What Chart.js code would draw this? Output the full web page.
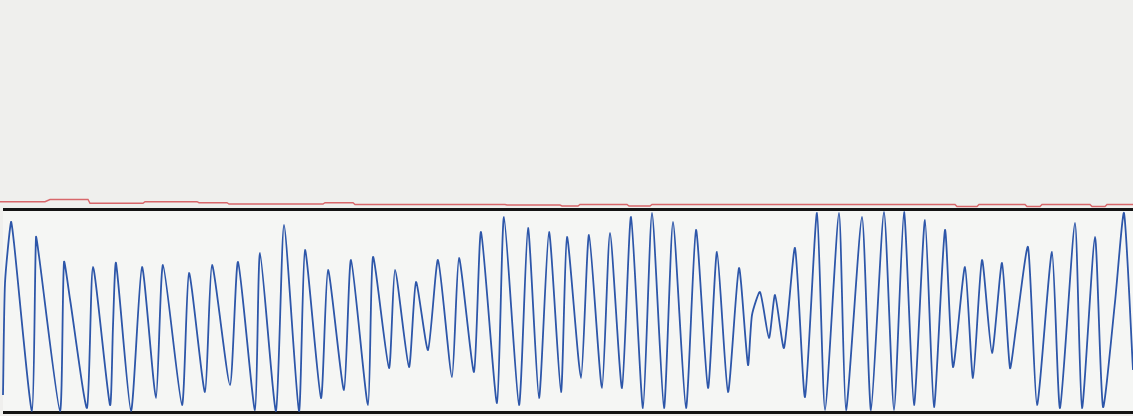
<!DOCTYPE html>
<html>
<head>
<meta charset="utf-8">
<script src="https://cdn.jsdelivr.net/npm/chart.js@4/dist/chart.umd.min.js"></script>
<style>
html,body{margin:0;padding:0;background:#eeeeec;}
#wrap{width:1133px;height:416px;position:relative;}
</style>
</head>
<body>
<div id="wrap"><canvas id="c"></canvas></div>
<script>
// Blue waveform: time (sample) and amplitude of turning points
const waveT = [3,5,11,14,32,36,39,60,64,70,87,93,110,113,116,131,142,156,163,182,189,205,212,230,238,255,260,276,284,299,305,321,328,344,351,368,373,389,395,409,416,428,438,452,459,474,481,497,504,519,528,539,549,561,567,581,589,602,610,622,631,643,652,664,673,686,696,708,717,728,739,748,752,760,769,775,784,795,805,817,825,839,846,862,871,884,894,904,914,925,934,945,953,965,973,982,992,1002,1010,1016,1028,1037,1052,1060,1075,1082,1095,1103,1115,1124,1133];
const waveV = [-84,28,89,68,-100,74,55,-100,49,12,-97,44,-94,-15,48,-100,44,-87,46,-94,38,-81,46,-74,49,-99,58,-100,86,-100,61,-87,41,-79,51,-94,54,-57,41,-56,29,-39,51,-66,53,-61,79,-92,94,-94,83,-87,79,-81,74,-67,76,-77,78,-77,94,-97,98,-97,89,-97,81,-77,59,-81,43,-54,-4,19,-27,16,-37,63,-86,98,-99,98,-99,94,-99,99,-99,99,-94,91,-96,81,-56,44,-67,51,-42,48,-57,-17,64,-94,59,-97,88,-97,74,-96,9,98,-59];

// Red reference trace
const refT = [0,45,50,88,90,143,145,197,199,227,229,323,325,353,355,505,507,560,562,578,580,627,629,650,652,955,957,977,979,1025,1027,1040,1042,1090,1092,1105,1107,1133];
const refV = [109.3,109.3,111.5,111.5,107.7,107.7,109.3,109.3,108.3,108.3,107,107,108.3,108.3,106.5,106.5,106,106,105,105,106.5,106.5,105,105,106.5,106.5,104.5,104.5,106.5,106.5,104.5,104.5,106.5,106.5,104.5,104.5,106.5,106.5];

// Frame lines (top / bottom) of the trace panel
const frameT = [3,1133];
const frameTop = [101.5,101.5];
const frameBottom = [-101.5,-101.5];

const pts = (t,v)=>t.map((x,i)=>({x:x,y:v[i]}));

const bgPlugin = {
  id:'bg',
  beforeDraw(chart){
    const {ctx,scales:{x,y}} = chart;
    ctx.save();
    ctx.fillStyle='#efefed';
    ctx.fillRect(0,0,chart.width,chart.height);
    const yt = y.getPixelForValue(frameTop[0]);
    const yb = y.getPixelForValue(frameBottom[0]);
    ctx.fillStyle='#f5f6f4';
    ctx.fillRect(x.getPixelForValue(frameT[0]),yt,chart.width,yb-yt);
    ctx.restore();
  }
};

new Chart(document.getElementById('c'),{
  type:'line',
  data:{
    datasets:[
      {label:'ref',data:pts(refT,refV),borderColor:'#d8676b',borderWidth:1.4,pointRadius:0,tension:0},
      {label:'wave',data:pts(waveT,waveV),borderColor:'#2d56a9',borderWidth:1.8,pointRadius:0,tension:0.2},
      {label:'top',data:pts(frameT,frameTop),borderColor:'#141414',borderWidth:3,pointRadius:0},
      {label:'bottom',data:pts(frameT,frameBottom),borderColor:'#141414',borderWidth:3,pointRadius:0}
    ]
  },
  options:{
    responsive:true,
    maintainAspectRatio:false,
    animation:false,
    layout:{padding:0},
    plugins:{legend:{display:false},tooltip:{enabled:false}},
    scales:{
      x:{type:'linear',min:0,max:1133,display:false},
      y:{min:-105,max:311,display:false}
    }
  },
  plugins:[bgPlugin]
});
</script>
</body>
</html>
